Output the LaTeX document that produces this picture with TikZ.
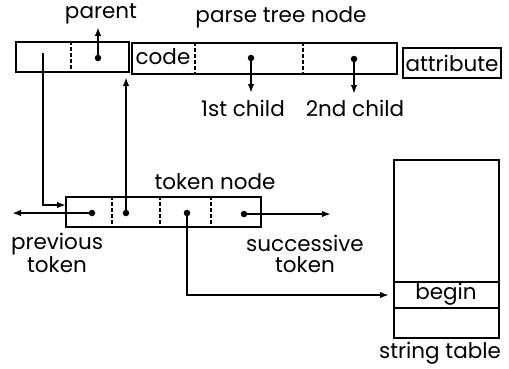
\documentclass[tikz,border=0pt]{standalone}
\usepackage{fontspec}
\setmainfont{Poppins}
\usetikzlibrary{arrows.meta}
\begin{document}
\begin{tikzpicture}[x=1pt,y=-1pt,
  box/.style={draw, line width=2pt, inner sep=0pt, anchor=north west},
  dv/.style={dashed, dash pattern=on 4pt off 2pt, line width=1.4pt},
  ptr/.style={line width=1.8pt, -{Latex[length=9pt,width=6.5pt]}},
  wire/.style={line width=1.8pt},
  dot/.style={circle, fill, inner sep=0pt, minimum size=6.5pt},
  lbl/.style={font=\fontsize{21.5}{21}\selectfont, inner sep=0pt, align=center}]
\path[use as bounding box] (0,0) rectangle (509,368);
% top-left box
\node[box, minimum width=113pt, minimum height=30pt] (pl) at (15,41) {};
\draw[dv] ([xshift=56pt]pl.north west) -- ([xshift=56pt]pl.south west);
\node[dot] (pdot) at (98,58) {};
\node[lbl] (parent) at (101,14) {parent};
\coordinate (ptip) at (98,27);
\draw[ptr] (pdot.center) -- (ptip);
% parse tree node
\node[box, minimum width=265pt, minimum height=31pt] (ptn) at (131,42) {};
\draw[dv] ([xshift=64pt]ptn.north west) -- ([xshift=64pt]ptn.south west);
\draw[dv] ([xshift=172pt]ptn.north west) -- ([xshift=172pt]ptn.south west);
\node[lbl] (code) at (163,57) {code};
\node[lbl] (ptnl) at (281,17) {parse tree node};
\node[dot] (c1) at (251,58) {};
\node[dot] (c2) at (354,59) {};
\node[lbl] (first) at (243,108) {1st child};
\node[lbl] (second) at (355,108) {2nd child};
\coordinate (c1tip) at (251,93);
\coordinate (c2tip) at (354,94);
\draw[ptr] (c1.center) -- (c1tip);
\draw[ptr] (c2.center) -- (c2tip);
% attribute
\node[box, minimum width=98pt, minimum height=30pt] (attr) at (402,47) {};
\node[lbl] at (attr.center) {attribute};
% token node
\node[box, minimum width=195pt, minimum height=30pt] (tok) at (65,196) {};
\foreach \d in {47,95,146}
  \draw[dv] ([xshift=\d pt]tok.north west) -- ([xshift=\d pt]tok.south west);
\node[lbl] (tokl) at (215,182) {token node};
\node[dot] (t1) at (92,213) {};
\node[dot] (t2) at (126,213) {};
\node[dot] (t3) at (187,213) {};
\node[dot] (t4) at (244,214) {};
\coordinate (prevtip) at (12,213);
\coordinate (succtip) at (331,214);
\draw[ptr] (t1.center) -- (prevtip);
\draw[ptr] (t4.center) -- (succtip);
\node[lbl] (prev) at (57,253) {previous\\token};
\node[lbl] (succ) at (305,254) {successive\\token};
% pointer from top-left box down to token node
\coordinate (ls) at (43,53);
\coordinate (tokin) at (66,205);
\draw[ptr] (ls) |- (tokin);
% pointer from token node up to parse tree node
\coordinate (uptip) at (126,77);
\draw[ptr] (t2.center) -- (uptip);
% string table
\node[box, minimum width=105pt, minimum height=178pt] (st) at (393,159) {};
\draw[wire] ([yshift=-123pt]st.north west) -- ([yshift=-123pt]st.north east);
\draw[wire] ([yshift=-149pt]st.north west) -- ([yshift=-149pt]st.north east);
\node[lbl] (begin) at (446,294) {begin};
\node[lbl] (stl) at (440,353) {string table};
\coordinate (stin) at (389,295);
\draw[ptr] (t3.center) |- (stin);
\end{tikzpicture}
\end{document}
